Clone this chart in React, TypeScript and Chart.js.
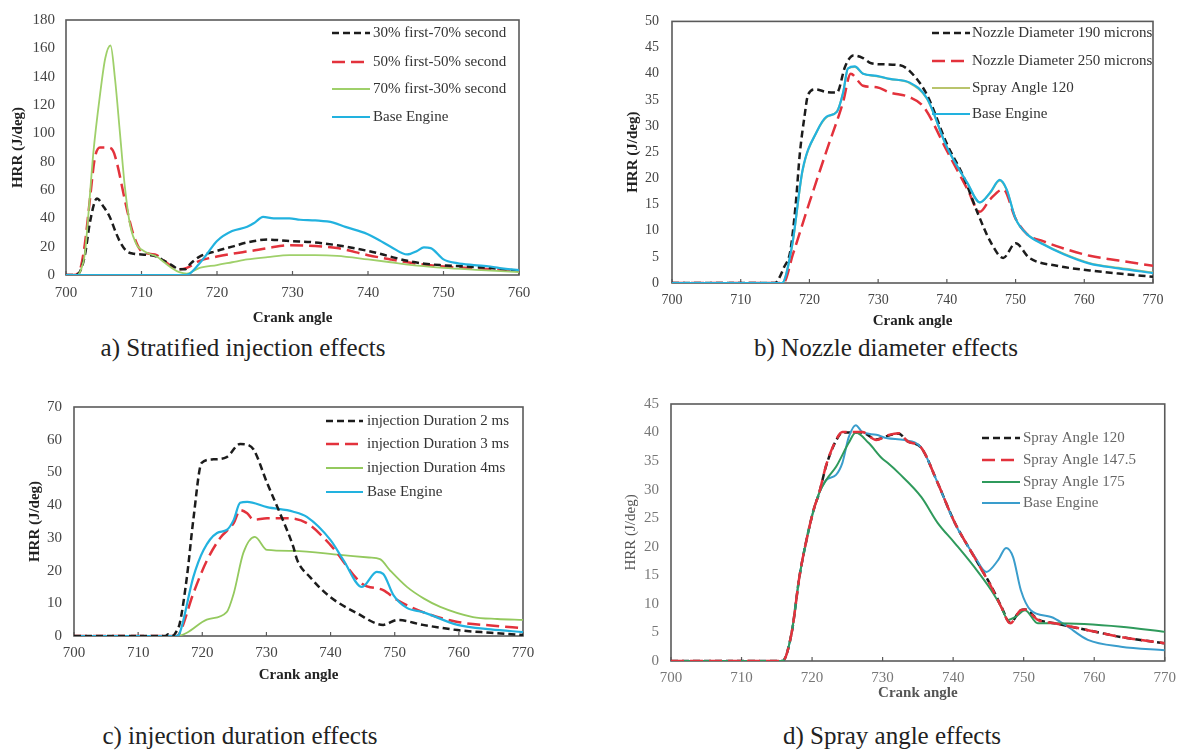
import React, { useEffect, useRef } from "react";
import { Chart, registerables } from "chart.js";
Chart.register(...registerables);

type P = [number, number];

// ---------- Panel a: stratified injection ----------
const aFirst30: P[] = [[700,0],[701,0],[701.8,2],[702.5,14],[703.2,38],[704.1,54],[705,48],[705.8,41],[706.6,30],[707.2,23],[708,17],[709,15],[710,14.5],[711,14],[712,13],[713,10],[714,7],[715,4],[715.8,4],[716.5,8],[717.7,13],[720,17],[722,20],[724,23],[726.7,25],[729.6,24],[733,23],[735.9,21],[740,17],[743,13],[745.2,10],[747.5,8],[749.5,7],[753,6],[756,5],[760,3]];
const aFirst50: P[] = [[700,0],[701,0],[701.8,3],[702.5,22],[703.2,55],[703.8,82],[704.5,90],[705.5,90],[706.2,88],[706.7,80],[708,48],[708.9,29],[709.8,18],[711,15],[712,14],[713,10],[714,6],[715,4],[716,5],[717.7,10],[720,13],[722,15],[724.5,17],[726.7,19],[729.6,21],[733,20.5],[735.9,19],[740,14],[743,11],[745.2,9],[748,7],[750,6],[755,4.5],[760,3]];
const aFirst70: P[] = [[700,0],[701.5,0],[702,4],[702.5,15],[703,45],[703.6,85],[704.5,127],[705.2,153],[705.9,162],[706.5,138],[707.15,100],[707.8,62],[708.5,35],[709.4,21],[710,18],[711,15],[712,13],[713,9],[714,5],[715,2],[716,1],[717.7,5],[720,7],[722,9],[724,11],[726.7,12.6],[729.6,14],[733,14],[735.9,13.5],[740,11],[743,9],[745,7.5],[750,5],[755,3.5],[760,2]];
const aBase: P[] = [[700,0],[715.5,0],[716.4,1],[717.5,7],[718.7,15],[720,24],[722,31],[724,34],[725,37],[726.1,41],[727.5,40],[729.6,40],[731,39],[733,38.5],[735.4,37],[737,34],[739.9,29],[741.5,24.5],[743,20],[745.2,14.5],[746.5,17],[747.4,19.5],[748.3,19],[750,11],[751.8,8.4],[754,7],[756.2,6],[758,4.5],[760,3.5]];
const aLabels = ["30% first-70% second", "50% first-50% second", "70% first-30% second", "Base Engine"];

// ---------- Panel b: nozzle diameter ----------
const bNozzle190: P[] = [[700,0],[715,0],[715.4,0.5],[716.3,3],[717.2,6],[718,15],[718.6,24.7],[719.3,32],[719.8,36],[720.9,37],[722.5,36.5],[724,36.4],[725.2,41.4],[726.4,43.5],[727.8,43],[729,42],[730.7,41.8],[733.2,41.6],[734.6,40.5],[737.1,36],[740,26.6],[742.4,20.4],[744.6,13],[746.3,8],[748.2,4.8],[750,7.6],[752,4.8],[756,3.3],[760.8,2.4],[765,1.8],[770,1.2]];
const bNozzle250: P[] = [[700,0],[716.2,0],[717.6,5.5],[720,15.4],[722.5,25.3],[724.9,34.6],[726,40],[727.8,37.7],[729.8,37.4],[731.7,36.4],[734.6,35.5],[736.6,33.7],[740,25.3],[743,17.9],[744.8,13.6],[746.3,16],[748.2,17.9],[750,12.3],[751.7,9.3],[754,8],[757,6.6],[760.8,5.2],[765,4.3],[770,3.3]];
const bSpray120: P[] = [[700,0],[716,0],[717.5,7.2],[719,21.4],[721.1,29],[722.5,31.7],[724,32.8],[724.9,36.3],[725.6,41],[726.6,41.3],[727.8,40],[729.8,39.5],[731.7,39],[734.6,38.2],[737.1,35.2],[740,26],[743,19],[744.8,15.4],[746.3,17.2],[747.7,19.6],[748.7,17.8],[750,12.3],[751.7,9.3],[754,7.5],[757,5.6],[760.8,3.8],[765,2.9],[770,2]];
const bBase: P[] = [[700,0],[716,0],[717.5,7.4],[719,21.6],[721.1,29],[722.5,31.8],[724,32.7],[724.9,36.4],[725.6,41],[726.6,41.4],[727.8,40],[729.8,39.6],[731.7,39],[734.6,38.3],[737.1,35.3],[740,26],[743,19.1],[744.8,15.4],[746.3,17.3],[747.7,19.7],[748.7,17.9],[750,12.3],[751.7,9.3],[754,7.4],[757,5.5],[760.8,3.7],[765,2.8],[770,1.9]];
const bLabels = ["Nozzle Diameter 190 microns", "Nozzle Diameter 250 microns", "Spray Angle 120", "Base Engine"];

// ---------- Panel c: injection duration ----------
const cDur2: P[] = [[700,0],[714.2,0],[714.7,0.5],[715.3,0],[716,1.5],[716.5,4],[717.6,18],[718.6,35.5],[719.9,52.9],[721.7,54],[723.8,54.7],[725.9,58.7],[727,58.5],[728,57],[730.1,46.8],[732.1,37.6],[734.2,27.2],[734.8,23.2],[736.8,18],[739.9,12],[744.1,7],[748.2,3.4],[750.4,4.9],[754.4,3.4],[759.8,1.8],[765,1],[770,0.3]];
const cDur3: P[] = [[700,0],[716,0],[716.5,1],[718.6,13],[720.7,23],[722.8,30],[724.9,34.5],[725.9,38.5],[727,37.5],[728,35.5],[730.1,36],[733.2,36],[736.3,34.5],[740,27.8],[744.9,16],[748.2,14],[750.4,11],[754.4,7.3],[759.8,4.3],[765,3.2],[770,2.4]];
const cDur4: P[] = [[700,0],[716,0],[717.6,1],[720.7,5],[723.8,7.3],[724.9,13],[726.4,25.4],[728.2,30.3],[730.1,26.3],[734.2,26],[741.5,24.8],[746,24],[747.7,23.5],[749.3,20],[751.9,15],[754.5,11.5],[757.1,8.9],[762.2,5.8],[766,5.2],[770,4.9]];
const cBase: P[] = [[700,0],[716,0],[716.5,1],[718.6,18],[720.2,26.3],[722.3,31.5],[723.8,32.4],[724.9,35.5],[725.9,40.7],[727,41],[730.1,39.4],[734.2,38],[736.3,36.4],[740,29.3],[742,23.2],[744.9,15],[747.2,19.6],[748.2,19],[749.8,12.5],[751.9,8.6],[754.4,7.3],[759.8,3.4],[765,2],[770,1.2]];
const cLabels = ["injection Duration 2 ms", "injection Duration 3 ms", "injection Duration 4ms", "Base Engine"];

// ---------- Panel d: spray angle ----------
const dSpray120: P[] = [[700,0],[715.8,0],[717.1,4.9],[718.2,14.7],[719.3,21.7],[720.3,26.8],[721,29.4],[722,34.2],[723.4,38.6],[724.3,40],[727.1,40],[729.1,38.8],[730.9,39.5],[732.3,39.8],[733.5,38.5],[735.5,37.3],[737.8,31.2],[740.2,24.3],[743.1,18],[745.4,13.1],[746.8,9.6],[748.1,6.7],[749.6,8.9],[750.2,9],[752,7.3],[754.4,6.6],[759.1,5.4],[763.8,4.2],[770,3.1]];
const dSpray147: P[] = [[700,0],[715.8,0],[717.1,4.9],[718.2,14.7],[719.3,21.7],[720.3,26.8],[721,29.4],[722,34.3],[723.4,38.7],[724.3,40.1],[727.1,40.1],[729.1,38.7],[730.9,39.6],[732.3,39.9],[733.5,38.5],[735.5,37.3],[737.8,31.2],[740.2,24.3],[743.1,18],[745.4,13],[746.8,9.5],[748.1,6.6],[749.6,8.9],[750.2,9],[752,7.2],[754.4,6.6],[759.1,5.4],[763.8,4.2],[770,3.1]];
const dSpray175: P[] = [[700,0],[715.8,0],[717.1,4.9],[718.2,14.7],[719.3,21.7],[720.3,26.8],[721,29.4],[722,31.7],[723.4,34],[725.2,38.2],[726.2,40],[728,38.2],[729.9,35.5],[730.7,34.7],[732.3,32.9],[735.5,28.7],[737.8,24.2],[740.2,20.7],[743.1,16.3],[745.4,12.4],[746.8,9.5],[747.8,7.2],[748.8,7.7],[750.2,8.9],[752,6.6],[754.4,6.6],[763.8,6],[770,5.1]];
const dBase: P[] = [[700,0],[715.8,0],[717.1,4.9],[718.2,14.7],[719.3,21.7],[720.3,26.8],[721,29.4],[722,31.7],[723.4,32.6],[724.3,34.7],[725.2,39.2],[726.2,41.3],[727.1,40.1],[729.1,39.6],[730.7,39],[733.1,38.7],[735.5,37.3],[737.8,31.2],[740.2,24.2],[743.1,18.2],[744.7,15.6],[746.4,17.7],[747.5,19.8],[748.5,18.2],[749.6,12.4],[751,8.9],[753.9,7.7],[755.9,6.3],[759.1,3.7],[763.8,2.5],[770,1.9]];
const dLabels = ["Spray Angle 120", "Spray Angle 147.5", "Spray Angle 175", "Base Engine"];

const captions = ["a) Stratified injection effects", "b) Nozzle diameter effects", "c) injection duration effects", "d) Spray angle effects"];
const xTitle = "Crank angle";
const yTitle = "HRR (J/deg)";

const SERIF = '"Liberation Serif", "Times New Roman", serif';

interface Series { label: string; data: P[]; color: string; width: number; dash: number[]; order: number; }
interface Panel {
  left: number; top: number; width: number; height: number;
  plot: { l: number; t: number; r: number; b: number };
  xMax: number; yMax: number; yStep: number;
  tickFont: number; tickColor: string; yTickPad: number; xTickPad: number;
  xTitlePad: number; yTitlePad: number; xTitleBold: boolean; yTitleBold: boolean; titleColor: string;
  legend: { x0: number; x1: number; tx: number; rows: number[]; color: string; font: number; clipRight?: number };
  series: Series[];
}

const BLACK = "#1c1c1c";
const RED = "#e3323c";
const dashBlack = [7, 4];
const dashRed = [13, 6];

const panels: Panel[] = [
  {
    left: 0, top: 0, width: 592, height: 330,
    plot: { l: 66, t: 18, r: 519, b: 275 },
    xMax: 760, yMax: 180, yStep: 20,
    tickFont: 15, tickColor: "#444", yTickPad: 11, xTickPad: 9,
    xTitlePad: 3, yTitlePad: 9, xTitleBold: true, yTitleBold: true, titleColor: "#222",
    legend: { x0: 332, x1: 370, tx: 373, rows: [33, 62, 89, 117], color: "#333", font: 15 },
    series: [
      { label: aLabels[0], data: aFirst30, color: BLACK, width: 2.5, dash: dashBlack, order: 2 },
      { label: aLabels[1], data: aFirst50, color: RED, width: 2.5, dash: dashRed, order: 3 },
      { label: aLabels[2], data: aFirst70, color: "#9fd06a", width: 1.8, dash: [], order: 1 },
      { label: aLabels[3], data: aBase, color: "#22b2df", width: 2.2, dash: [], order: 0 },
    ],
  },
  {
    left: 600, top: 0, width: 584, height: 330,
    plot: { l: 672, t: 14, r: 1153, b: 283 },
    xMax: 770, yMax: 50, yStep: 5,
    tickFont: 14, tickColor: "#444", yTickPad: 13, xTickPad: 9,
    xTitlePad: 0, yTitlePad: 24, xTitleBold: true, yTitleBold: true, titleColor: "#222",
    legend: { x0: 932, x1: 970, tx: 972, rows: [33, 61, 88, 114], color: "#333", font: 15, clipRight: 1155 },
    series: [
      { label: bLabels[0], data: bNozzle190, color: BLACK, width: 2.5, dash: dashBlack, order: 1 },
      { label: bLabels[1], data: bNozzle250, color: RED, width: 2.5, dash: dashRed, order: 2 },
      { label: bLabels[2], data: bSpray120, color: "#b9c46c", width: 2, dash: [], order: 3 },
      { label: bLabels[3], data: bBase, color: "#22b2df", width: 2.2, dash: [], order: 0 },
    ],
  },
  {
    left: 0, top: 380, width: 592, height: 320,
    plot: { l: 74, t: 407, r: 523, b: 636 },
    xMax: 770, yMax: 70, yStep: 10,
    tickFont: 15, tickColor: "#444", yTickPad: 12, xTickPad: 8,
    xTitlePad: 16, yTitlePad: 26, xTitleBold: true, yTitleBold: true, titleColor: "#222",
    legend: { x0: 326, x1: 363, tx: 367, rows: [421, 444, 468, 492], color: "#333", font: 15 },
    series: [
      { label: cLabels[0], data: cDur2, color: BLACK, width: 2.5, dash: dashBlack, order: 0 },
      { label: cLabels[1], data: cDur3, color: RED, width: 2.5, dash: dashRed, order: 2 },
      { label: cLabels[2], data: cDur4, color: "#94c95e", width: 1.8, dash: [], order: 3 },
      { label: cLabels[3], data: cBase, color: "#22b2df", width: 2.2, dash: [], order: 1 },
    ],
  },
  {
    left: 600, top: 380, width: 584, height: 330,
    plot: { l: 671, t: 404, r: 1167, b: 661 },
    xMax: 770, yMax: 45, yStep: 5,
    tickFont: 15, tickColor: "#777", yTickPad: 12, xTickPad: 8,
    xTitlePad: 8, yTitlePad: 22, xTitleBold: true, yTitleBold: false, titleColor: "#555",
    legend: { x0: 982, x1: 1020, tx: 1023, rows: [438, 460, 482, 503], color: "#666", font: 15 },
    series: [
      { label: dLabels[0], data: dSpray120, color: BLACK, width: 2.5, dash: dashBlack, order: 3 },
      { label: dLabels[1], data: dSpray147, color: RED, width: 2.5, dash: dashRed, order: 0 },
      { label: dLabels[2], data: dSpray175, color: "#2f9a5c", width: 2, dash: [], order: 1 },
      { label: dLabels[3], data: dBase, color: "#3a9dcc", width: 2, dash: [], order: 2 },
    ],
  },
];

const captionPos = [
  { x: 243, y: 347 },
  { x: 886, y: 347 },
  { x: 240, y: 735 },
  { x: 892, y: 735 },
];

const frameLegend = {
  id: "frameLegend",
  beforeDatasetsDraw(chart: any, _a: any, opts: any) {
    const { ctx, chartArea: a, scales } = chart;
    ctx.save();
    ctx.strokeStyle = "#5a5a5a";
    ctx.lineWidth = 1.6;
    ctx.setLineDash([]);
    ctx.strokeRect(a.left, a.top, a.right - a.left, a.bottom - a.top);
    const xs = scales.x;
    ctx.lineWidth = 1.2;
    xs.ticks.forEach((t: any) => {
      const px = xs.getPixelForValue(t.value);
      ctx.beginPath();
      ctx.moveTo(px, a.bottom);
      ctx.lineTo(px, a.bottom - 4);
      ctx.stroke();
    });
    ctx.restore();
  },
  afterDatasetsDraw(chart: any, _a: any, opts: any) {
    const { ctx } = chart;
    const lg = opts.legend;
    const ox = opts.ox, oy = opts.oy;
    ctx.save();
    if (lg.clipRight) {
      ctx.beginPath();
      ctx.rect(0, 0, lg.clipRight - ox, chart.height);
      ctx.clip();
    }
    chart.data.datasets.forEach((ds: any, i: number) => {
      const y = lg.rows[i] - oy;
      ctx.beginPath();
      ctx.strokeStyle = ds.borderColor;
      ctx.lineWidth = ds.borderWidth;
      ctx.setLineDash(ds.borderDash || []);
      ctx.moveTo(lg.x0 - ox, y);
      ctx.lineTo(lg.x1 - ox, y);
      ctx.stroke();
      ctx.setLineDash([]);
      ctx.fillStyle = lg.color;
      ctx.font = `${lg.font}px ${SERIF}`;
      ctx.textBaseline = "middle";
      ctx.textAlign = "left";
      ctx.fillText(ds.label, lg.tx - ox, y);
    });
    ctx.restore();
  },
};

function PanelChart({ p }: { p: Panel }) {
  const ref = useRef<HTMLCanvasElement | null>(null);
  useEffect(() => {
    if (!ref.current) return;
    const yW = p.plot.l - p.left;
    const xH = p.top + p.height - p.plot.b;
    const chart = new Chart(ref.current, {
      type: "line",
      data: {
        datasets: p.series.map((s) => ({
          label: s.label,
          data: s.data.map(([x, y]) => ({ x, y })),
          borderColor: s.color,
          backgroundColor: s.color,
          borderWidth: s.width,
          borderDash: s.dash,
          pointRadius: 0,
          fill: false,
          cubicInterpolationMode: "monotone" as const,
          order: s.order,
        })),
      },
      options: {
        responsive: false,
        animation: false,
        events: [],
        layout: { padding: { top: p.plot.t - p.top, right: p.left + p.width - p.plot.r, left: 0, bottom: 0 } },
        plugins: {
          legend: { display: false },
          tooltip: { enabled: false },
          frameLegend: { legend: p.legend, ox: p.left, oy: p.top },
        } as any,
        scales: {
          x: {
            type: "linear",
            min: 700,
            max: p.xMax,
            afterFit: (s: any) => { s.height = xH; },
            grid: { display: false, drawTicks: false },
            border: { display: false },
            ticks: {
              stepSize: 10, autoSkip: false, maxRotation: 0,
              font: { family: SERIF, size: p.tickFont }, color: p.tickColor, padding: p.xTickPad,
              callback: (v: any) => String(v),
            },
            title: {
              display: true, text: xTitle, color: p.titleColor,
              font: { family: SERIF, size: 15, weight: p.xTitleBold ? "bold" : "normal" },
              padding: { top: 0, bottom: p.xTitlePad },
            },
          },
          y: {
            type: "linear",
            min: 0,
            max: p.yMax,
            afterFit: (s: any) => { s.width = yW; },
            grid: { display: false, drawTicks: false },
            border: { display: false },
            ticks: {
              stepSize: p.yStep, autoSkip: false,
              font: { family: SERIF, size: p.tickFont }, color: p.tickColor, padding: p.yTickPad,
              callback: (v: any) => String(v),
            },
            title: {
              display: true, text: yTitle, color: p.titleColor,
              font: { family: SERIF, size: 15, weight: p.yTitleBold ? "bold" : "normal" },
              padding: { top: p.yTitlePad, bottom: 0 },
            },
          },
        },
      } as any,
      plugins: [frameLegend],
    });
    return () => chart.destroy();
  }, [p]);
  return (
    <canvas
      ref={ref}
      width={p.width}
      height={p.height}
      style={{ position: "absolute", left: p.left, top: p.top, width: p.width, height: p.height }}
    />
  );
}

export default function App() {
  return (
    <div style={{ position: "absolute", left: 0, top: 0, width: 1184, height: 753, background: "#fff", overflow: "hidden" }}>
      {panels.map((p, i) => (
        <PanelChart key={i} p={p} />
      ))}
      {captions.map((c, i) => (
        <div
          key={"c" + i}
          style={{
            position: "absolute",
            left: captionPos[i].x,
            top: captionPos[i].y,
            transform: "translate(-50%, -50%)",
            fontFamily: SERIF,
            fontSize: 25,
            color: "#222",
            whiteSpace: "nowrap",
            lineHeight: 1,
          }}
        >
          {c}
        </div>
      ))}
    </div>
  );
}
